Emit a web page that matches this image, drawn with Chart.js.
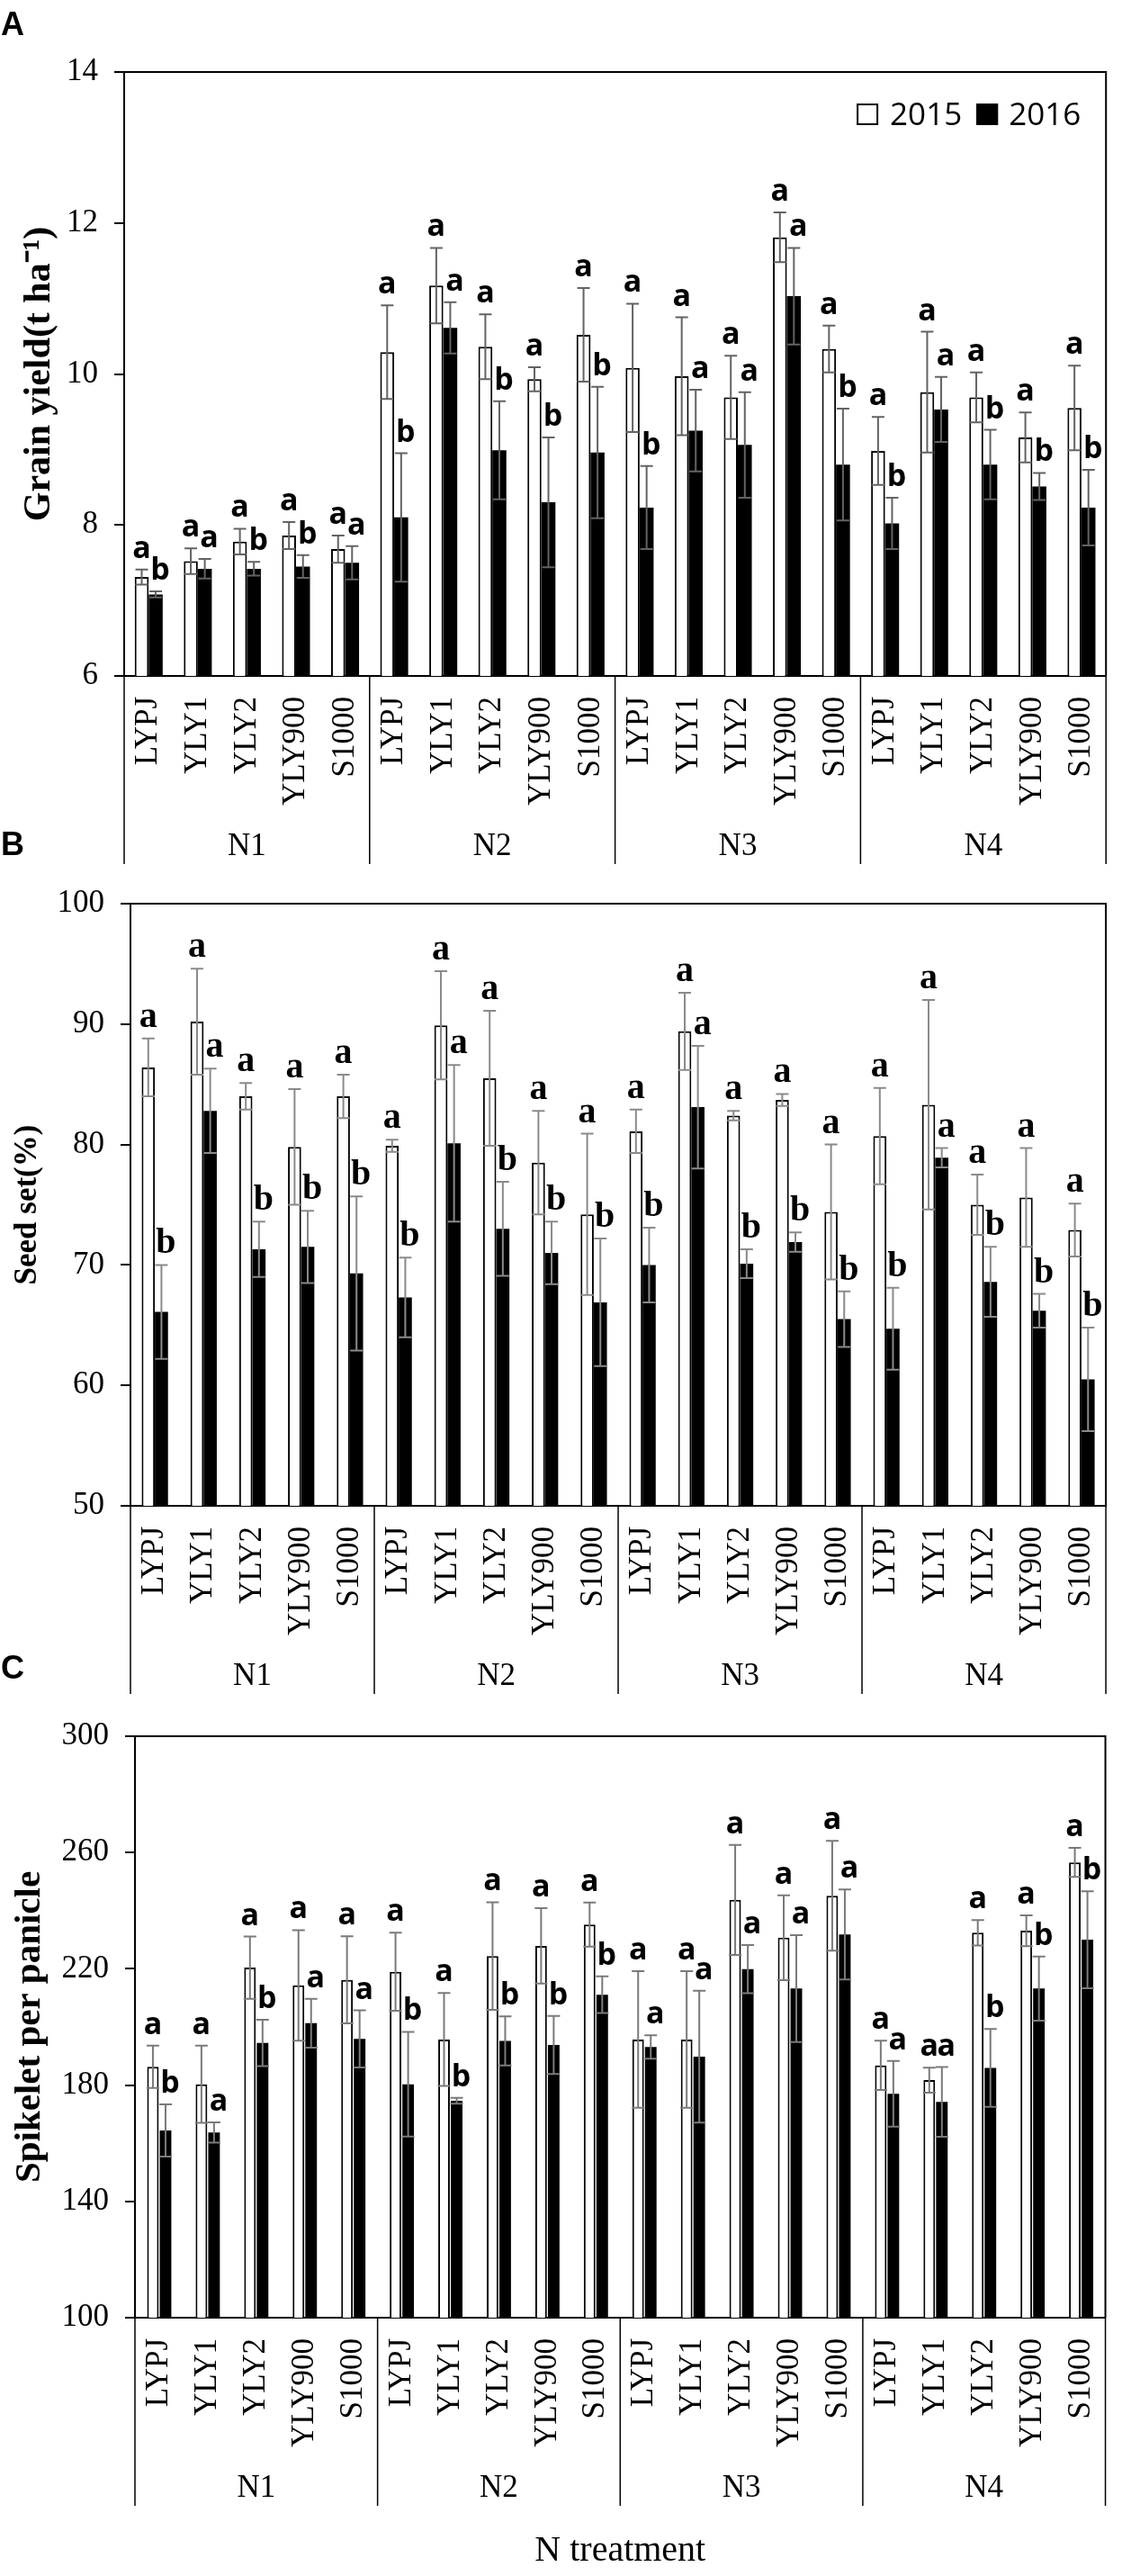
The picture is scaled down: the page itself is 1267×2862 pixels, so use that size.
<!DOCTYPE html>
<html lang="en">
<head>
<meta charset="UTF-8">
<title>Grain yield, seed set and spikelets per panicle</title>
<script src="https://cdn.jsdelivr.net/npm/chart.js"></script>
<style>
  body { margin: 0; background: #fff; }
  #page { position: relative; width: 1267px; height: 2862px; }
  .panel { position: absolute; left: 0; width: 1267px; }
  .tag { position: absolute; left: 1px; font: bold 36px "Liberation Sans", Arial, sans-serif; line-height: 36px; }
</style>
</head>
<body>
<div id="page">
  <div class="panel" style="top:0; height:965px"><canvas id="chartA"></canvas></div>
  <div class="panel" style="top:965px; height:925px"><canvas id="chartB"></canvas></div>
  <div class="panel" style="top:1890px; height:972px"><canvas id="chartC"></canvas></div>
  <div class="tag" style="top:9px">A</div>
  <div class="tag" style="top:920px">B</div>
  <div class="tag" style="top:1835px">C</div>
</div>

<script>
// categories
const cultivars = ['LYPJ', 'YLY1', 'YLY2', 'YLY900', 'S1000'];
const nGroups = ['N1', 'N2', 'N3', 'N4'];
const years = ['2015', '2016'];

// A - grain yield (t ha-1), order N1..N4 x cultivars
const yield2015 = [7.31, 7.52, 7.78, 7.86, 7.68, 10.29, 11.17, 10.36, 9.93, 10.52, 10.08, 9.97, 9.69, 11.81, 10.33, 8.98, 9.76, 9.69, 9.16, 9.55];
const yield2016 = [7.08, 7.42, 7.42, 7.45, 7.50, 8.10, 10.61, 8.99, 8.30, 8.96, 8.23, 9.25, 9.06, 11.03, 8.80, 8.02, 9.53, 8.80, 8.51, 8.23];
const yieldErr2015 = [0.10, 0.17, 0.17, 0.18, 0.18, 0.62, 0.50, 0.43, 0.16, 0.62, 0.85, 0.78, 0.55, 0.33, 0.31, 0.45, 0.80, 0.33, 0.33, 0.56];
const yieldErr2016 = [0.04, 0.13, 0.09, 0.15, 0.22, 0.85, 0.34, 0.65, 0.86, 0.87, 0.55, 0.54, 0.70, 0.64, 0.74, 0.34, 0.43, 0.46, 0.18, 0.50];
const yieldSig2015 = ['a', 'a', 'a', 'a', 'a', 'a', 'a', 'a', 'a', 'a', 'a', 'a', 'a', 'a', 'a', 'a', 'a', 'a', 'a', 'a'];
const yieldSig2016 = ['b', 'a', 'b', 'b', 'a', 'b', 'a', 'b', 'b', 'b', 'b', 'a', 'a', 'a', 'b', 'b', 'a', 'b', 'b', 'b'];

// B - seed set (%)
const seed2015 = [86.4, 90.2, 84.0, 79.8, 84.0, 79.9, 89.9, 85.5, 78.5, 74.2, 81.1, 89.4, 82.4, 83.7, 74.4, 80.7, 83.3, 75.0, 75.6, 72.9];
const seed2016 = [66.1, 82.8, 71.3, 71.5, 69.3, 67.3, 80.1, 73.0, 71.0, 66.9, 70.0, 83.1, 70.1, 71.9, 65.5, 64.7, 78.9, 68.6, 66.2, 60.5];
const seedErr2015 = [2.4, 4.4, 1.1, 4.8, 1.8, 0.5, 4.5, 5.6, 4.3, 6.7, 1.8, 3.2, 0.4, 0.5, 5.6, 4.0, 8.7, 2.5, 4.1, 2.2];
const seedErr2016 = [3.9, 3.5, 2.3, 3.0, 6.4, 3.3, 6.5, 3.9, 2.6, 5.3, 3.1, 5.1, 1.2, 0.8, 2.3, 3.4, 0.8, 2.9, 1.4, 4.3];
const seedSig2015 = ['a', 'a', 'a', 'a', 'a', 'a', 'a', 'a', 'a', 'a', 'a', 'a', 'a', 'a', 'a', 'a', 'a', 'a', 'a', 'a'];
const seedSig2016 = ['b', 'a', 'b', 'b', 'b', 'b', 'a', 'b', 'b', 'b', 'b', 'a', 'b', 'b', 'b', 'b', 'a', 'b', 'b', 'b'];

// C - spikelets per panicle
const spk2015 = [186.3, 180.3, 220.4, 214.3, 216.2, 219.0, 195.7, 224.4, 227.9, 235.2, 195.7, 195.7, 243.7, 230.7, 245.1, 186.8, 181.7, 232.4, 233.1, 256.6];
const spk2016 = [164.4, 163.7, 194.5, 201.3, 195.9, 180.3, 174.6, 195.2, 193.8, 211.1, 193.1, 189.8, 219.9, 213.2, 231.8, 177.0, 174.2, 185.9, 213.2, 230.0];
const spkErr2015 = [7.3, 13.3, 10.7, 19.0, 15.0, 13.4, 16.0, 18.5, 13.0, 7.6, 23.5, 23.5, 18.9, 14.6, 18.9, 8.5, 4.3, 4.4, 5.3, 5.0];
const spkErr2016 = [9.0, 3.5, 8.0, 8.4, 9.8, 18.0, 1.0, 8.4, 10.0, 6.3, 4.0, 22.7, 8.3, 18.4, 15.5, 11.3, 12.0, 13.4, 11.0, 16.7];
const spkSig2015 = ['a', 'a', 'a', 'a', 'a', 'a', 'a', 'a', 'a', 'a', 'a', 'a', 'a', 'a', 'a', 'a', 'a', 'a', 'a', 'a'];
const spkSig2016 = ['b', 'a', 'b', 'a', 'a', 'b', 'b', 'b', 'b', 'b', 'a', 'a', 'a', 'a', 'a', 'a', 'a', 'b', 'b', 'b'];

const SERIF = '"Liberation Serif", "Times New Roman", serif';

// error bars + significance letters
const errorBars = {
    id: 'errorBars',
    afterDatasetsDraw(chart, args, opts) {
        const ctx = chart.ctx;
        const y = chart.scales.y;
        ctx.save();
        chart.data.datasets.forEach((ds, i) => {
            chart.getDatasetMeta(i).data.forEach((bar, j) => {
                const top = y.getPixelForValue(ds.data[j] + ds.errors[j]);
                const bot = y.getPixelForValue(ds.data[j] - ds.errors[j]);
                ctx.strokeStyle = opts.color;
                ctx.lineWidth = 2;
                ctx.beginPath();
                ctx.moveTo(bar.x, top); ctx.lineTo(bar.x, bot);
                ctx.moveTo(bar.x - opts.cap, top); ctx.lineTo(bar.x + opts.cap, top);
                ctx.moveTo(bar.x - opts.cap, bot); ctx.lineTo(bar.x + opts.cap, bot);
                ctx.stroke();
                ctx.fillStyle = '#000';
                ctx.font = opts.font;
                ctx.textAlign = 'center';
                ctx.textBaseline = 'alphabetic';
                ctx.fillText(ds.letters[j], bar.x + (i ? 5 : 0), top - 13);
            });
        });
        ctx.restore();
    }
};

// top and right sides of the plot box
const frame = {
    id: 'frame',
    afterDraw(chart) {
        const {ctx, chartArea: a} = chart;
        ctx.save();
        ctx.strokeStyle = '#000';
        ctx.lineWidth = 2;
        ctx.beginPath();
        ctx.moveTo(a.left, a.top); ctx.lineTo(a.right, a.top); ctx.lineTo(a.right, a.bottom);
        ctx.stroke();
        ctx.restore();
    }
};

// N treatment groups under the cultivar labels
const groupAxis = {
    id: 'groupAxis',
    afterDraw(chart) {
        const x = chart.scales.x;
        const ctx = chart.ctx;
        const per = cultivars.length;
        ctx.save();
        ctx.strokeStyle = '#000';
        ctx.lineWidth = 1.5;
        for (let g = 0; g <= nGroups.length; g++) {
            const px = x.getPixelForValue(g * per - 0.5);
            ctx.beginPath();
            ctx.moveTo(px, x.top);
            ctx.lineTo(px, x.top + 209);
            ctx.stroke();
        }
        ctx.fillStyle = '#000';
        ctx.font = '35px ' + SERIF;
        ctx.textAlign = 'center';
        ctx.textBaseline = 'middle';
        nGroups.forEach((n, g) => {
            const px = (x.getPixelForValue(g * per - 0.5) + x.getPixelForValue((g + 1) * per - 0.5)) / 2;
            ctx.fillText(n, px, x.top + 190);
        });
        ctx.restore();
    }
};

// 2015 / 2016 key inside the plot, top right
const boxLegend = {
    id: 'boxLegend',
    afterDraw(chart, args, opts) {
        if (!opts.show) return;
        const {ctx, chartArea: a} = chart;
        ctx.save();
        ctx.font = '35px "Open Sans", sans-serif';
        ctx.textBaseline = 'middle';
        const ds = chart.data.datasets;
        const w0 = ctx.measureText(ds[0].label).width;
        const w1 = ctx.measureText(ds[1].label).width;
        const box = 24;
        let x = a.right - 28 - (box + 13 + w0 + 16 + box + 12 + w1);
        const cy = a.top + 47;
        ds.forEach((d, i) => {
            ctx.fillStyle = d.backgroundColor;
            ctx.fillRect(x, cy - box / 2, box, box);
            ctx.strokeStyle = '#000';
            ctx.lineWidth = 2;
            ctx.strokeRect(x + 1, cy - box / 2 + 1, box - 2, box - 2);
            x += box + (i ? 12 : 13);
            ctx.fillStyle = '#000';
            ctx.fillText(d.label, x, cy + 2);
            x += (i ? w1 : w0) + 16;
        });
        ctx.restore();
    }
};

function makePanel(id, p) {
    const labels = [];
    nGroups.forEach(() => cultivars.forEach(c => labels.push(c)));
    return new Chart(document.getElementById(id), {
        type: 'bar',
        data: {
            labels: labels,
            datasets: [
                {label: years[0], data: p.v2015, errors: p.e2015, letters: p.s2015,
                 backgroundColor: '#fff', borderColor: '#000', borderWidth: 2,
                 categoryPercentage: p.catPct, barPercentage: p.barPct},
                {label: years[1], data: p.v2016, errors: p.e2016, letters: p.s2016,
                 backgroundColor: '#000', borderColor: '#000', borderWidth: 0,
                 categoryPercentage: p.catPct, barPercentage: p.barPct}
            ]
        },
        options: {
            responsive: true,
            maintainAspectRatio: false,
            animation: false,
            layout: {padding: {top: p.padTop, right: p.padRight, left: 0, bottom: 0}},
            scales: {
                x: {
                    grid: {display: false, drawTicks: false},
                    border: {color: '#000', width: 2},
                    ticks: {color: '#000', font: {family: SERIF, size: 35}, minRotation: 90, maxRotation: 90,
                            autoSkip: false, padding: 23},
                    title: {display: !!p.xTitle, text: p.xTitle, color: '#000',
                            font: {family: SERIF, size: 40}, padding: {top: 0, bottom: 4}},
                    afterFit(scale) { scale.height = p.xAxisH; }
                },
                y: {
                    min: p.min, max: p.max,
                    grid: {drawOnChartArea: false, tickLength: 11, color: '#000', lineWidth: 2},
                    border: {color: '#000', width: 2},
                    ticks: {stepSize: p.step, color: '#000', font: {family: SERIF, size: 35}, padding: 18},
                    title: {display: true, text: p.yTitle, color: '#000',
                            font: {family: SERIF, size: p.yTitleSize, weight: 'bold'},
                            padding: {top: p.yTitlePad, bottom: 0}},
                    afterFit(scale) { scale.width = p.yAxisW; }
                }
            },
            plugins: {
                legend: {display: false},
                tooltip: {enabled: false},
                errorBars: {color: p.errColor, cap: 7, font: p.letterFont},
                boxLegend: {show: !!p.legend}
            }
        },
        plugins: [errorBars, frame, groupAxis, boxLegend]
    });
}

makePanel('chartA', {
    v2015: yield2015, v2016: yield2016, e2015: yieldErr2015, e2016: yieldErr2016,
    s2015: yieldSig2015, s2016: yieldSig2016,
    min: 6, max: 14, step: 2, yTitle: 'Grain yield(t ha\u207B\u00B9)', yTitleSize: 42, yTitlePad: 19,
    padTop: 80, padRight: 3, yAxisW: 138, xAxisH: 214,
    catPct: 0.57, barPct: 1.0, errColor: '#636363', letterFont: 'bold 34px "Open Sans", sans-serif',
    legend: true
});

makePanel('chartB', {
    v2015: seed2015, v2016: seed2016, e2015: seedErr2015, e2016: seedErr2016,
    s2015: seedSig2015, s2016: seedSig2016,
    min: 50, max: 100, step: 10, yTitle: 'Seed set(%)', yTitleSize: 35, yTitlePad: 10,
    padTop: 37, padRight: 2, yAxisW: 145, xAxisH: 217,
    catPct: 0.54, barPct: 1.0, errColor: '#8a8a8a', letterFont: 'bold 40px ' + SERIF
});

makePanel('chartC', {
    v2015: spk2015, v2016: spk2016, e2015: spkErr2015, e2016: spkErr2016,
    s2015: spkSig2015, s2016: spkSig2016,
    min: 100, max: 300, step: 40, yTitle: 'Spikelet per panicle', yTitleSize: 41, yTitlePad: 9,
    padTop: 29, padRight: 17, yAxisW: 150, xAxisH: 287, xTitle: 'N treatment',
    catPct: 0.52, barPct: 0.92, errColor: '#7a7a7a', letterFont: 'bold 34px "Open Sans", sans-serif'
});
</script>
</body>
</html>
